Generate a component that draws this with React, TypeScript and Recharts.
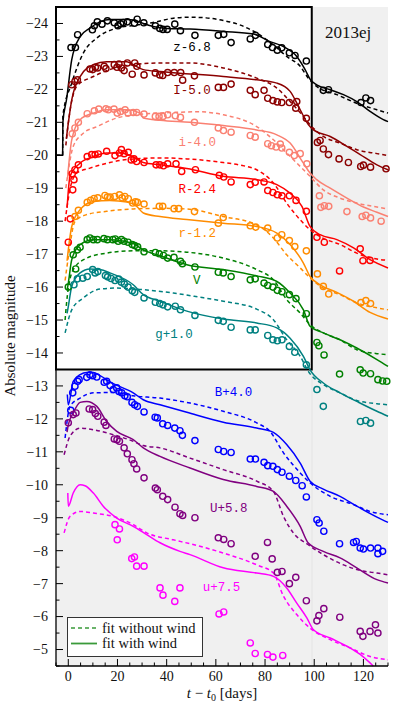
import React from "react"
import { ComposedChart, Line, Scatter, XAxis, YAxis, ReferenceArea, ReferenceDot } from "recharts"

type Pt = [number, number]

// observed photometry, [day, absolute mag]
const zObs: Pt[] = [[1.1,-23.27],[2.9,-23.27],[3.8,-23.66],[9.8,-23.81],[10.6,-23.93],[11.8,-24.05],[13.7,-23.98],[15.9,-24.08],[18.7,-24.02],[20.2,-23.93],[21.3,-23.99],[22.4,-24.03],[24,-24.05],[26.9,-24.01],[28,-24.13],[30.7,-24.02],[35.4,-23.93],[37.2,-23.85],[38.5,-23.82],[40.2,-23.82],[43.3,-23.98],[45.6,-23.78],[51.5,-23.64],[61,-23.64],[63.2,-23.67],[66.2,-23.42],[74,-23.53],[76.1,-23.64],[81.1,-23.36],[83,-23.27],[85,-23.19],[86.8,-23.26],[89.9,-23.11],[92.2,-23.03],[96.8,-22.86],[103.7,-21.97],[105.8,-21.99],[119,-21.6],[121,-21.74],[122.9,-21.66]]
const IObs: Pt[] = [[1.4,-22.14],[2.7,-22.24],[3.7,-22.29],[8.8,-22.62],[9.9,-22.6],[11,-22.67],[11.9,-22.65],[14.6,-22.7],[15.3,-22.63],[18.7,-22.75],[19.8,-22.67],[20.6,-22.77],[21.6,-22.65],[22.7,-22.57],[24,-22.8],[26,-22.46],[27,-22.8],[27.9,-22.7],[30.8,-22.44],[35.4,-22.5],[37.2,-22.44],[38.4,-22.42],[40.4,-22.51],[43.1,-22.51],[45.7,-22.51],[46.5,-22.28],[51.3,-22.41],[61,-22.06],[63.1,-22.06],[66.2,-22.16],[74,-21.97],[76,-21.84],[79.6,-21.97],[81.1,-21.73],[83.2,-21.66],[85,-21.62],[86.8,-21.6],[89.9,-21.6],[92.9,-21.63],[92.5,-21.43],[96.8,-21.12],[101.3,-20.39],[102.4,-20.45],[103.7,-20.19],[105.8,-20.02],[110.1,-19.89],[113.9,-19.78],[118.9,-19.66],[120,-19.7],[122.9,-19.64],[129.2,-19.59]]
const iObs: Pt[] = [[1.6,-20.65],[2.7,-20.83],[4.1,-21],[7.7,-21.26],[10.6,-21.35],[12.4,-21.4],[15.3,-21.41],[16.3,-21.38],[18.6,-21.4],[19.9,-21.28],[21.3,-21.33],[23.1,-21.38],[24.3,-21.28],[26.4,-21.3],[27.8,-21.3],[30.8,-21.25],[35.4,-21.18],[36.9,-21.18],[38.5,-21.18],[40.4,-21.23],[43.5,-21.2],[45.6,-21.15],[51.3,-21],[61,-20.83],[63.1,-20.75],[66.2,-20.7],[74,-20.6],[76,-20.55],[81.1,-20.35],[82.6,-20.29],[84.5,-20.25],[86.2,-20.34],[86.8,-20.22],[89.9,-20.09],[91.9,-19.99],[94.3,-20.05],[97,-19.74],[102.1,-18.77],[102.7,-18.42],[104.1,-18.47],[105.9,-18.45],[113.3,-18.29],[119.5,-18.14],[121,-18.18],[122.9,-18.1],[127.2,-18]]
const RObs: Pt[] = [[0,-17.36],[0.8,-18.07],[1.8,-18.95],[2.3,-19.26],[1.6,-19.44],[2.7,-19.56],[4.1,-19.71],[7.7,-19.96],[9.5,-20.02],[10.9,-20.02],[12.2,-20.04],[15.6,-20.12],[19,-19.99],[20.8,-20.07],[21.6,-20.17],[22.7,-20.05],[24.4,-20.09],[25.6,-19.86],[26.7,-19.89],[27.8,-19.81],[30.8,-19.78],[35.7,-19.71],[37.2,-19.71],[38.7,-19.68],[40.4,-19.74],[43.8,-19.74],[46.1,-19.51],[51.7,-19.56],[61.4,-19.39],[63.2,-19.34],[66.2,-19.19],[74,-19.11],[76,-19.18],[79.6,-19.19],[81.1,-18.93],[83.2,-18.87],[85,-18.8],[86.9,-18.77],[89.9,-18.77],[92.6,-18.63],[96.8,-18.3],[101.1,-17.51],[104.1,-17.36],[110.3,-16.49],[118.7,-17.16],[119.8,-16.8],[122.7,-16.81]]
const rObs: Pt[] = [[2.7,-18.14],[4.1,-18.33],[7.7,-18.57],[9.1,-18.63],[10.5,-18.69],[12,-18.71],[14.9,-18.78],[15.9,-18.73],[17,-18.73],[18.9,-18.75],[20.8,-18.8],[21.9,-18.71],[23,-18.75],[24.4,-18.68],[26.2,-18.55],[27.3,-18.59],[28.1,-18.57],[30.8,-18.52],[37,-18.45],[38.4,-18.45],[43,-18.38],[44.9,-18.38],[51.3,-18.29],[61,-17.94],[63,-18.11],[74,-17.86],[76.2,-17.82],[81.1,-17.79],[85,-17.49],[86.8,-17.59],[89.9,-17.41],[92.1,-17.23],[96.8,-17.1],[101.3,-16.4],[103.7,-16.02],[105.9,-15.79],[119,-15.53],[121,-15.59],[122.9,-15.5]]
const VObs: Pt[] = [[0,-16],[2,-16.98],[3,-16.55],[3.7,-17.13],[4.8,-17.21],[7.7,-17.44],[8.8,-17.49],[10.2,-17.44],[11.8,-17.44],[14.5,-17.47],[15.9,-17.44],[18.1,-17.44],[19.1,-17.46],[20.3,-17.39],[21.6,-17.44],[22.7,-17.39],[24.3,-17.36],[26,-17.29],[27,-17.26],[28.2,-17.22],[30.8,-17.07],[35.4,-17.05],[37,-17.01],[38.7,-16.96],[40.4,-16.88],[43,-16.9],[45.6,-16.78],[46.4,-16.71],[51.5,-16.61],[61,-16.45],[63,-16.43],[66.2,-16.32],[74,-16.22],[76,-16.25],[79.6,-16.12],[81.1,-16.05],[83.2,-16],[85,-15.9],[86.9,-15.86],[89.9,-15.77],[92.6,-15.65],[96.8,-15.19],[101.1,-14.32],[101.9,-14.22],[104,-13.94],[110.3,-13.36],[118.7,-13.49],[119.9,-13.39],[122.9,-13.37],[125.9,-13.19],[127.8,-13.15],[129.5,-13.14]]
const gObs: Pt[] = [[2.3,-16.07],[3.7,-16.25],[5.9,-16.27],[7.7,-16.32],[9.9,-16.53],[10.9,-16.43],[12,-16.47],[15.1,-16.35],[16,-16.31],[17.4,-16.26],[19,-16.2],[20.5,-16.24],[21.6,-16.15],[22.8,-16.09],[24.3,-16],[26,-15.89],[27,-15.84],[30.8,-15.67],[35.4,-15.54],[37.2,-15.5],[38.5,-15.46],[40.4,-15.4],[43.5,-15.42],[45.6,-15.31],[51.5,-15.14],[61,-14.99],[63,-14.96],[66.2,-14.78],[74,-14.7],[76,-14.7],[81.1,-14.53],[83.2,-14.4],[85,-14.37],[86.9,-14.4],[89.9,-14.2],[92.1,-14.02],[96.8,-13.64],[101.1,-12.89],[103.7,-12.38],[118.8,-11.92],[121,-11.95],[122.9,-11.87]]
const BObs: Pt[] = [[1,-12.26],[1.8,-12.79],[2.7,-12.99],[3.8,-13.14],[4.4,-13.19],[7.5,-13.26],[8.8,-13.34],[9.9,-13.31],[11.6,-13.27],[14.6,-13.11],[15.6,-13.14],[17,-13.01],[18.3,-12.89],[19.7,-12.94],[20.6,-12.83],[21.7,-12.79],[23,-12.7],[24,-12.67],[25.9,-12.5],[27,-12.43],[28.1,-12.38],[30.8,-12.21],[35.3,-12.05],[36.2,-12.03],[38.4,-11.85],[40.4,-11.8],[43.3,-11.72],[45.4,-11.64],[46.4,-11.5],[51.5,-11.34],[61,-11.07],[63.2,-11.01],[66.2,-10.98],[74,-10.78],[76.1,-10.78],[79.6,-10.68],[81.1,-10.58],[83.2,-10.56],[85,-10.46],[86.9,-10.38],[89.9,-10.26],[92.5,-10.13],[95.1,-9.97],[96.8,-9.63],[101.1,-8.94],[102,-8.84],[103.9,-8.59],[110.3,-8.21],[116,-8.25],[117.1,-8.28],[118.7,-8.08],[120,-8.05],[122.9,-8.08],[125.9,-8.08],[125.9,-7.91],[127.8,-7.98]]
const UObs: Pt[] = [[0,-11.88],[2,-12.13],[3.1,-12.18],[8.5,-12.3],[9.9,-12.28],[11,-12.16],[12,-12.08],[14.6,-11.9],[15.3,-11.8],[18.7,-11.39],[19.8,-11.37],[20.8,-11.32],[22.7,-11.12],[24,-10.94],[25.9,-10.76],[26.7,-10.64],[27.8,-10.48],[30.8,-10.21],[35.4,-9.9],[36.2,-9.85],[38.4,-9.65],[40.4,-9.55],[43.4,-9.32],[45.4,-9.12],[46.5,-9.07],[51.5,-9],[61,-8.39],[63.2,-8.34],[66.2,-8.21],[76,-7.83],[81,-8.25],[82.9,-7.75],[85,-7.34],[86.9,-7.37],[89.9,-7],[92.5,-7.19],[96.8,-6.48],[101.1,-5.87],[101.9,-6.03],[103.9,-6.24],[110.4,-5.98],[118.7,-5.55],[119.8,-5.4],[122.7,-5.55],[124.9,-5.75],[125.9,-5.5]]
const uObs: Pt[] = [[19,-8.79],[20.8,-8.66],[19.9,-8.33],[25.8,-7.76],[26.9,-7.81],[27.8,-7.53],[30.8,-7.53],[37.3,-6.87],[38.5,-6.65],[43.3,-6.46],[45.4,-6.87],[61.3,-6.08],[63.2,-6.14],[74,-5.2],[76,-4.88],[81,-4.85],[83.2,-4.77],[87.2,-4.82]]

// model fit with wind (solid)
const zWind: Pt[] = [[-5,-20],[-2.3,-20],[-2.2,-21],[-0.7,-21.7],[1.4,-22.9],[4.8,-23.6],[8.8,-23.86],[12.9,-24.05],[17,-24.12],[23.8,-24.12],[27,-24.1],[30.5,-24],[35,-23.9],[40,-23.85],[49.5,-23.83],[63,-23.76],[75.3,-23.68],[82,-23.45],[87.5,-23.3],[92.9,-23],[96.3,-22.6],[98.3,-22.31],[101,-22.14],[106.5,-21.99],[111.9,-21.84],[117.3,-21.63],[122.7,-21.33],[128.1,-21.08],[130,-21.02]]
const IWind: Pt[] = [[-0.8,-20.5],[1.4,-21.68],[4.8,-22.39],[10.2,-22.75],[15.6,-22.84],[23.8,-22.84],[26.4,-22.75],[30.5,-22.6],[37.3,-22.54],[49.5,-22.47],[63,-22.39],[76.6,-22.29],[84.8,-22.19],[90.2,-21.94],[94.3,-21.38],[97.6,-20.93],[99.7,-20.77],[106.5,-20.57],[113.3,-20.27],[118.7,-20.02],[125.5,-19.71],[130,-19.56]]
const iWind: Pt[] = [[-0.3,-19.3],[0,-19.56],[1.4,-20.47],[4.8,-21.08],[10.2,-21.28],[15.6,-21.38],[23.8,-21.38],[29.2,-21.28],[30.5,-21.13],[37.3,-21.06],[49.5,-21],[63,-20.9],[76.6,-20.77],[84.8,-20.62],[90.2,-20.37],[95.6,-19.76],[98.3,-19.46],[101,-19.26],[106.5,-19],[113.3,-18.7],[120,-18.43],[125.5,-18.27],[130,-18.14]]
const RWind: Pt[] = [[-0.5,-18.4],[0.7,-19.36],[4.8,-19.76],[10.2,-19.96],[15.6,-20.07],[21,-20.07],[26.4,-19.96],[30.5,-19.78],[37.3,-19.71],[48.2,-19.6],[63,-19.36],[76.6,-19.26],[84.8,-19.11],[90.2,-18.85],[95,-18.45],[98.3,-17.84],[102.4,-17.59],[109.2,-17.44],[116,-17.19],[122.7,-16.83],[130,-16.58]]
const rWind: Pt[] = [[-0.5,-16.8],[0,-17.13],[1.4,-17.84],[4.8,-18.35],[10.2,-18.6],[16.9,-18.63],[23.8,-18.58],[27.8,-18.45],[30.5,-18.25],[37.3,-18.14],[48.2,-18.05],[63,-17.94],[76.6,-17.84],[84.8,-17.64],[90.2,-17.29],[95.6,-16.73],[98.3,-16.32],[102.4,-16.07],[109.2,-15.84],[116,-15.57],[122.7,-15.23],[130,-15.03]]
const VWind: Pt[] = [[-0.5,-15.9],[0,-16.12],[1.4,-16.83],[4.8,-17.29],[10.2,-17.44],[16.9,-17.44],[26.4,-17.32],[30.5,-17.13],[37.3,-16.95],[48.2,-16.68],[63,-16.53],[76.6,-16.34],[84.8,-16.17],[90.2,-15.82],[95.6,-15.31],[98.3,-14.81],[103.7,-14.61],[110.5,-14.4],[117.3,-14.15],[125.5,-13.8],[130,-13.59]]
const gWind: Pt[] = [[-0.5,-15.2],[0,-15.41],[1.4,-16.02],[4.8,-16.43],[8.8,-16.55],[12.9,-16.53],[16.9,-16.43],[26.4,-16.07],[30.5,-15.77],[37.3,-15.57],[48.2,-15.27],[63,-15.03],[76.6,-14.91],[84.8,-14.76],[90.2,-14.45],[95.6,-13.9],[98.3,-13.49],[103.7,-13.09],[110.5,-12.79],[117.3,-12.53],[125.5,-12.23],[130,-12.08]]
const BWind: Pt[] = [[-0.4,-12.74],[0,-12.43],[2,-13.14],[4.8,-13.34],[7.5,-13.41],[10.2,-13.41],[12.9,-13.31],[18.3,-13.07],[26.4,-12.79],[30.5,-12.58],[37.3,-12.43],[48.2,-12.2],[63,-11.9],[76.6,-11.72],[83.4,-11.59],[88.8,-11.22],[94.3,-10.66],[98.3,-10.11],[103.7,-9.87],[110.5,-9.65],[117.3,-9.35],[125.5,-9.02],[130,-8.86]]
const UWind: Pt[] = [[-0.5,-11.6],[0,-11.82],[2,-12.18],[4.8,-12.5],[7.5,-12.53],[11.6,-12.38],[15.6,-11.92],[19.7,-11.62],[26.4,-11.37],[30.5,-11.12],[37.3,-10.86],[49.5,-10.51],[63,-10.16],[76.6,-9.95],[83.4,-9.8],[88.8,-9.35],[94.3,-8.74],[97.6,-8.23],[103.7,-7.98],[110.5,-7.78],[117.3,-7.48],[125.5,-7.12],[130,-7.02]]
const uWind: Pt[] = [[-0.2,-9.75],[0,-9.35],[2,-9.75],[4.8,-10],[6.8,-9.97],[10.2,-9.75],[14.2,-9.35],[19.7,-8.99],[26.4,-8.74],[31.9,-8.49],[37.3,-8.24],[45.4,-7.98],[49.5,-7.88],[63,-7.48],[76.6,-7.32],[83.4,-7.22],[88.8,-6.87],[92.9,-6.41],[97,-5.96],[99.7,-5.6],[106.5,-5.35],[113.3,-5.1],[118.7,-4.85],[124,-4.5]]

// model fit without wind (dashed)
const zNoWind: Pt[] = [[-5,-20],[-2.3,-20],[-2.2,-21.2],[1.4,-22.19],[6.1,-23.1],[11.6,-23.56],[19.7,-23.86],[26.4,-23.94],[33.2,-24.01],[42.7,-24.16],[49.5,-24.19],[56,-24.17],[63,-24.09],[70,-23.95],[76.6,-23.71],[83.4,-23.35],[88.8,-23],[94.3,-22.7],[97.6,-22.34],[101,-22.09],[109.2,-21.84],[117.3,-21.58],[125.5,-21.38],[130,-21.28]]
const INoWind: Pt[] = [[-1,-20.3],[0,-20.98],[3.4,-22.09],[10.2,-22.39],[16.9,-22.6],[26.4,-22.75],[37.3,-22.8],[49.5,-22.8],[63,-22.65],[76.6,-22.34],[84.8,-22.04],[90.2,-21.63],[95,-21.23],[98.3,-20.93],[103.7,-20.57],[110.5,-20.37],[117.3,-20.17],[125.5,-20.05],[130,-19.99]]
const iNoWind: Pt[] = [[-1,-19],[2,-20.27],[6.1,-20.67],[11.6,-20.87],[19.7,-21.13],[30.5,-21.25],[42.7,-21.3],[52.9,-21.32],[63,-21.23],[76.6,-20.87],[83.4,-20.47],[88.8,-20.07],[94.3,-19.66],[98.3,-19.36],[103.7,-18.95],[110.5,-18.7],[117.3,-18.55],[125.5,-18.43],[130,-18.37]]
const RNoWind: Pt[] = [[-1.3,-18],[0.5,-18.9],[3.4,-19.46],[8.8,-19.61],[16.9,-19.78],[26.4,-19.89],[37.3,-19.92],[48.2,-19.89],[63,-19.78],[70,-19.7],[76.6,-19.56],[83.4,-19.16],[88.8,-18.55],[94.3,-18.04],[98.3,-17.74],[103.7,-17.48],[110.5,-17.29],[117.3,-17.03],[125.5,-16.85],[130,-16.81]]
const rNoWind: Pt[] = [[-1.3,-16.2],[0,-16.9],[2.7,-17.99],[7.5,-18.2],[15.6,-18.3],[26.4,-18.37],[37.3,-18.39],[48.2,-18.37],[63,-18.14],[76.6,-17.89],[83.4,-17.49],[88.8,-16.98],[94.3,-16.58],[98.3,-16.28],[103.7,-15.97],[110.5,-15.77],[117.3,-15.52],[125.5,-15.37],[130,-15.31]]
const VNoWind: Pt[] = [[-1.3,-15],[-0.7,-15.52],[2,-16.53],[7.5,-16.88],[15.6,-17.03],[26.4,-17.1],[37.3,-17.1],[48.2,-17.06],[63,-16.88],[76.6,-16.53],[83.4,-16.22],[88.8,-15.62],[94.3,-15.21],[98.3,-14.86],[103.7,-14.61],[110.5,-14.4],[117.3,-14.1],[125.5,-13.98],[130,-13.95]]
const gNoWind: Pt[] = [[-1.3,-14.61],[1.4,-15.31],[6.1,-15.67],[12.9,-15.94],[19.7,-15.97],[30.5,-15.92],[42.7,-15.82],[52.9,-15.7],[63,-15.57],[76.6,-15.33],[83.4,-15.01],[88.8,-14.4],[94.3,-13.9],[97.6,-13.44],[103.7,-13.04],[110.5,-12.79],[117.3,-12.56],[125.5,-12.46],[130,-12.43]]
const BNoWind: Pt[] = [[-1.3,-11.42],[0.7,-12.38],[4.8,-12.63],[10.2,-12.79],[18.3,-12.8],[26.4,-12.7],[37.3,-12.63],[49.5,-12.48],[63,-12.23],[76.6,-11.88],[82,-11.62],[87.5,-10.97],[94.3,-10.36],[98.3,-10.06],[106.5,-9.65],[116,-9.4],[122.7,-9.19],[130,-9.09]]
const UNoWind: Pt[] = [[-1.7,-10.91],[0.7,-11.47],[4.8,-11.72],[10.2,-11.67],[18.3,-11.52],[26.4,-11.32],[30.5,-11.19],[37.3,-11.12],[49.5,-10.81],[63,-10.46],[76.6,-10.11],[83.4,-9.8],[87.5,-9.04],[91.5,-8.54],[97.6,-8.18],[103.7,-7.88],[111.9,-7.57],[118.7,-7.4],[125.5,-7.32],[130,-7.27]]
const uNoWind: Pt[] = [[-1.7,-8.54],[0.7,-9.04],[4.8,-9.19],[10.2,-9.14],[18.3,-9.04],[26.4,-8.79],[31.9,-8.54],[42.7,-8.33],[49.5,-8.21],[63,-7.93],[76.6,-7.57],[83.4,-7.32],[87.5,-6.62],[92.9,-6.06],[98.3,-5.65],[106.5,-5.3],[114.6,-5.05],[122.7,-4.79],[130,-4.69]]

const bandLabels = ["z-6.8", "I-5.0", "i-4.0", "R-2.4", "r-1.2", "V", "g+1.0", "B+4.0", "U+5.8", "u+7.5"]
const bandColors = ["#000000", "#8b0000", "#fa8072", "#ff0000", "#ff8c00", "#008000", "#008080", "#0000ff", "#800080", "#ff00ff"]
const obsSets = [zObs, IObs, iObs, RObs, rObs, VObs, gObs, BObs, UObs, uObs]
const windSets = [zWind, IWind, iWind, RWind, rWind, VWind, gWind, BWind, UWind, uWind]
const noWindSets = [zNoWind, INoWind, iNoWind, RNoWind, rNoWind, VNoWind, gNoWind, BNoWind, UNoWind, uNoWind]
// where each band name sits (day, mag)
const labelSpots: Pt[] = [[50.3,-23.3],[50.3,-21.99],[52.4,-20.41],[52.4,-19.0],[52.4,-17.64],[52.2,-16.22],[43,-14.58],[67.2,-12.82],[65.2,-9.32],[62.3,-6.92]]

const xTicks = Array.from({ length: 28 }, (_, k) => -5 + k * 5)
const yTicks = Array.from({ length: 41 }, (_, k) => -24.5 + k * 0.5)

const rows = (pts: Pt[]) => pts.map(([x, y]) => ({ x, y }))
const fmtMag = (v: number) => (v < 0 ? "\u2212" + Math.abs(v) : String(v))

const serif = "'Liberation Serif', 'DejaVu Serif', serif"
const mono = "'Liberation Mono', 'DejaVu Sans Mono', monospace"
const MAJOR = 7
const MINOR = 3.5

const ring = (color: string) => (p: any) =>
  <circle cx={p.cx} cy={p.cy} r={3.1} fill="none" stroke={color} strokeWidth={1.4} />

// inward ticks on all four spines, labels only on left / bottom
const BottomTick = (p: any) => {
  const v = p.payload.value
  const major = v % 20 === 0
  return (
    <g>
      <line x1={p.x} x2={p.x} y1={p.y} y2={p.y - (major ? MAJOR : MINOR)} stroke="#000" />
      {major && <text x={p.x} y={p.y + 5} dy="0.71em" textAnchor="middle" fontFamily={serif} fontSize={14} fill="#111">{v}</text>}
    </g>
  )
}
const TopTick = (p: any) => {
  const major = p.payload.value % 20 === 0
  return <line x1={p.x} x2={p.x} y1={p.y} y2={p.y + (major ? MAJOR : MINOR)} stroke="#000" />
}
const LeftTick = (p: any) => {
  const v = p.payload.value
  const major = Number.isInteger(v)
  return (
    <g>
      <line x1={p.x} x2={p.x + (major ? MAJOR : MINOR)} y1={p.y} y2={p.y} stroke="#000" />
      {major && <text x={p.x - 8} y={p.y} dy="0.35em" textAnchor="end" fontFamily={serif} fontSize={14} fill="#111">{fmtMag(v)}</text>}
    </g>
  )
}
const RightTick = (p: any) => {
  const major = Number.isInteger(p.payload.value)
  return <line x1={p.x} x2={p.x - (major ? MAJOR : MINOR)} y1={p.y} y2={p.y} stroke="#000" />
}

const XTitle = () => (
  <text x={222} y={698} textAnchor="middle" fontFamily={serif} fontSize={15} fill="#111">
    <tspan fontStyle="italic">t</tspan>
    <tspan> {"\u2212"} </tspan>
    <tspan fontStyle="italic">t</tspan>
    <tspan fontSize={10} dy={3}>0</tspan>
    <tspan dy={-3}> [days]</tspan>
  </text>
)
const YTitle = () => (
  <text x={15} y={336} transform="rotate(-90 15 336)" textAnchor="middle" fontFamily={serif} fontSize={15} fill="#111">
    Absolute magnitude
  </text>
)

export default function App() {
  return (
    <div style={{ position: "absolute", left: 0, top: 0, width: 395, height: 710, background: "#fff" }}>
      <ComposedChart width={395} height={710} margin={{ top: 7, right: 7, bottom: 14, left: 6 }}>
        <XAxis dataKey="x" type="number" domain={[-5, 130]} ticks={xTicks} interval={0} height={30}
          tickSize={0} tickMargin={0} tick={<BottomTick />} axisLine={{ stroke: "#000", strokeWidth: 1.3 }} label={<XTitle />} />
        <XAxis xAxisId="top" orientation="top" type="number" domain={[-5, 130]} ticks={xTicks} interval={0} height={0}
          tickSize={0} tickMargin={0} tick={<TopTick />} axisLine={{ stroke: "#000", strokeWidth: 1.3 }} />
        <YAxis dataKey="y" type="number" domain={[-24.5, -4.5]} reversed ticks={yTicks} interval={0} width={50}
          tickSize={0} tickMargin={0} tick={<LeftTick />} axisLine={{ stroke: "#000", strokeWidth: 1.3 }} label={<YTitle />} />
        <YAxis yAxisId="right" orientation="right" type="number" domain={[-24.5, -4.5]} reversed ticks={yTicks} interval={0} width={0}
          tickSize={0} tickMargin={0} tick={<RightTick />} axisLine={{ stroke: "#000", strokeWidth: 1.3 }} />

        {/* grey panel, faint divider at day 99, white inset box with black frame */}
        <ReferenceArea x1={-5} x2={130} y1={-24.5} y2={-4.5} fill="#f0f0f0" fillOpacity={1} stroke="none" />
        <ReferenceArea x1={98.9} x2={99.3} y1={-13.5} y2={-4.5} fill="#e4e4e4" fillOpacity={1} stroke="none" />
        <ReferenceArea x1={-5} x2={99} y1={-24.5} y2={-13.5} fill="#ffffff" fillOpacity={1} stroke="#000" strokeWidth={2} />

        {bandColors.map((c, k) => (
          <Line key={"nw" + k} data={rows(noWindSets[k])} dataKey="y" type="monotone" stroke={c} strokeWidth={1.5}
            strokeDasharray="4 3" dot={false} activeDot={false} isAnimationActive={false} />
        ))}
        {bandColors.map((c, k) => (
          <Line key={"w" + k} data={rows(windSets[k])} dataKey="y" type="monotone" stroke={c} strokeWidth={1.5}
            dot={false} activeDot={false} isAnimationActive={false} />
        ))}
        {bandColors.map((c, k) => (
          <Scatter key={"o" + k} data={rows(obsSets[k])} dataKey="y" shape={ring(c)} isAnimationActive={false} />
        ))}

        {bandLabels.map((t, k) => (
          <ReferenceDot key={"l" + k} x={labelSpots[k][0]} y={labelSpots[k][1]} r={0} stroke="none" fill="none"
            label={{ value: t, position: "center", fill: bandColors[k], fontFamily: mono, fontSize: 12.5 }} />
        ))}
        <ReferenceDot x={113.8} y={-23.74} r={0} stroke="none" fill="none"
          label={{ value: "2013ej", position: "center", fill: "#111", fontFamily: serif, fontSize: 17 }} />
      </ComposedChart>

      {/* legend box, bottom left of the plot */}
      <svg style={{ position: "absolute", left: 67, top: 617 }} width={136} height={40}>
        <rect x={0.5} y={0.5} width={135} height={39} fill="#fff" stroke="#333" />
        <line x1={4} x2={30} y1={11} y2={11} stroke="#3a9a3a" strokeWidth={1.5} strokeDasharray="4 3" />
        <text x={35} y={15.5} fontFamily={serif} fontSize={14.5} fill="#111">fit without wind</text>
        <line x1={4} x2={30} y1={26.5} y2={26.5} stroke="#3a9a3a" strokeWidth={1.8} />
        <text x={35} y={31} fontFamily={serif} fontSize={14.5} fill="#111">fit with wind</text>
      </svg>
    </div>
  )
}
